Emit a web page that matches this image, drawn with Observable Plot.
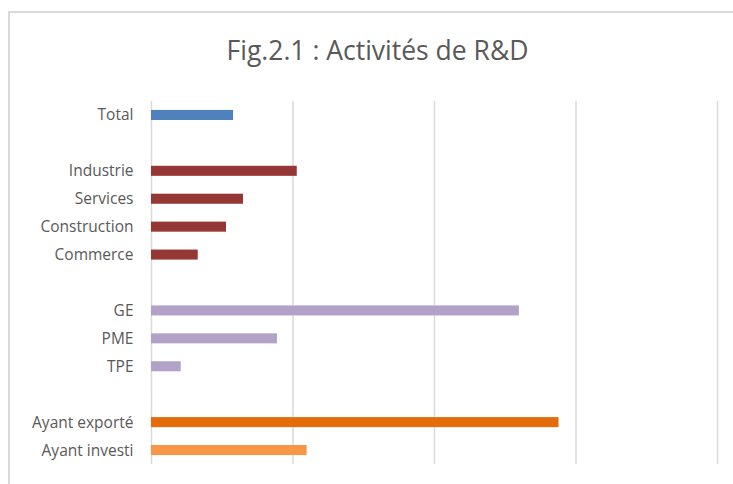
<!DOCTYPE html>
<html>
<head>
<meta charset="utf-8">
<script src="https://cdn.jsdelivr.net/npm/d3@7"></script>
<script src="https://cdn.jsdelivr.net/npm/@observablehq/plot@0.6"></script>
<style>
  html, body { margin: 0; padding: 0; background: #fff; }
  #wrap { position: relative; width: 733px; height: 484px; overflow: hidden; font-family: "Open Sans", sans-serif; }
  #frame { position: absolute; left: 8px; top: 11px; width: 730px; height: 480px; border-top: 2px solid #d9d9d9; border-left: 2px solid #d9d9d9; }
  #title { position: absolute; left: 0; width: 755px; top: 31.5px; text-align: center; font-size: 26.5px; font-weight: 400; color: #595959; line-height: 36px; }
  #chart { position: absolute; left: 0; top: 0; }
</style>
</head>
<body>
<div id="wrap">
  <div id="frame"></div>
  <div id="title">Fig.2.1 : Activités de R&amp;D</div>
  <div id="chart"></div>
</div>
<script>
// Categories, values (%) and group of each bar
const categories = ["Total", "Industrie", "Services", "Construction", "Commerce", "GE", "PME", "TPE", "Ayant exporté", "Ayant investi"];
const values = [5.8, 10.3, 6.5, 5.3, 3.3, 26.0, 8.9, 2.1, 28.8, 11.0];
const groups = ["total", "secteur", "secteur", "secteur", "secteur", "taille", "taille", "taille", "export", "invest"];
// Row order, with empty spacer rows between groups
const rowOrder = ["Total", "_1", "Industrie", "Services", "Construction", "Commerce", "_2", "GE", "PME", "TPE", "_3", "Ayant exporté", "Ayant investi"];
const xTicks = [0, 10, 20, 30, 40];
const groupNames = ["total", "secteur", "taille", "export", "invest"];
const groupColors = ["#4F81BD", "#953735", "#B3A2C7", "#E46C0A", "#F79646"];

const data = categories.map((c, i) => ({category: c, value: values[i], group: groups[i]}));

const chart = Plot.plot({
  width: 733,
  height: 484,
  marginTop: 101,
  marginBottom: 20,
  marginLeft: 151,
  marginRight: 16,
  style: {fontFamily: "Open Sans, sans-serif", fontSize: "16px", color: "#595959", background: "transparent"},
  x: {domain: [0, 40], axis: null},
  y: {domain: rowOrder, paddingInner: 0.64, paddingOuter: 0.32, align: 0.5, round: false, label: null},
  color: {domain: groupNames, range: groupColors},
  marks: [
    Plot.ruleX(xTicks, {stroke: "#d9d9d9", strokeWidth: 1.5, strokeOpacity: 1}),
    Plot.barX(data, {x: "value", y: "category", fill: "group"}),
    Plot.axisY({tickSize: 0, tickPadding: 18, fill: "#595959", fontSize: 15.5, tickFormat: d => d.startsWith("_") ? "" : d, label: null})
  ]
});
document.getElementById("chart").appendChild(chart);
</script>
</body>
</html>
